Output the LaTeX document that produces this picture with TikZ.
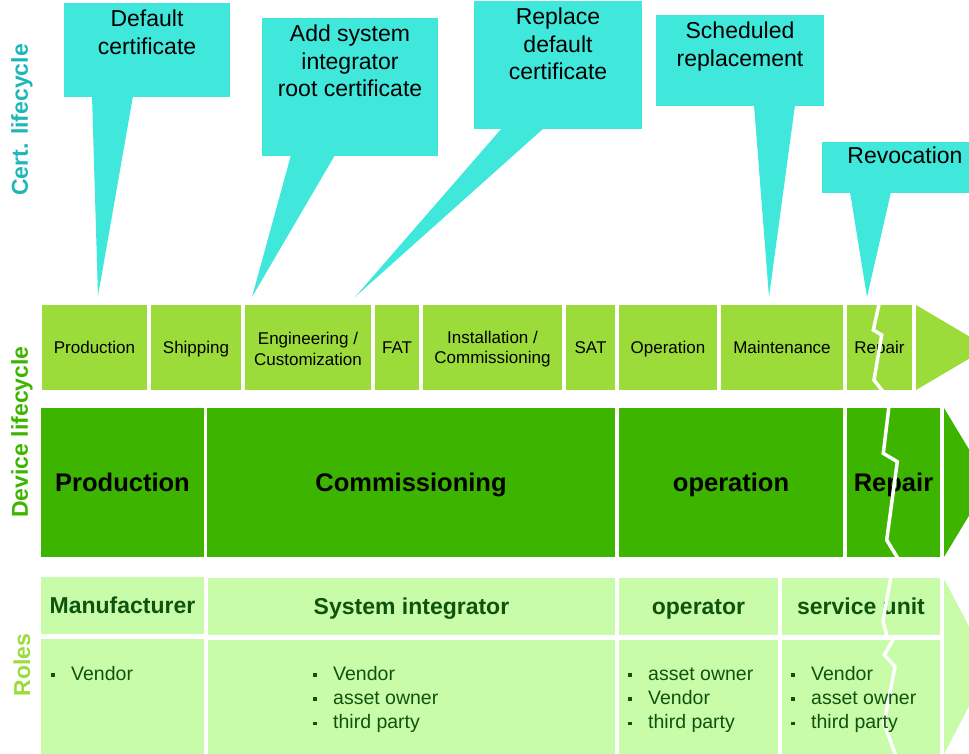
\documentclass[tikz,border=0pt]{standalone}
\usepackage{fontspec}
\setmainfont{Liberation Sans}
\definecolor{callc}{RGB}{64,232,220}
\definecolor{certc}{RGB}{30,182,182}
\definecolor{lg}{RGB}{155,219,58}
\definecolor{dg}{RGB}{60,180,0}
\definecolor{pg}{RGB}{200,252,168}
\definecolor{tg}{RGB}{14,84,14}
\newcommand\mybox[7]{\node[#2, minimum width={(#5-#3)*1pt}, minimum height={(#6-#4)*1pt}] (#1) at ({(#3+#5)/2},{(#4+#6)/2}) {#7};}
\newcommand\bsq{\makebox[20pt][l]{\rule[3.3pt]{3.6pt}{3.6pt}}}
\begin{document}
\begin{tikzpicture}[x=1pt,y=-1pt,
  r1/.style={fill=lg, inner sep=0pt, align=center, font=\fontsize{17}{20.5}\selectfont},
  r1s/.style={r1, text height=12.2pt, text depth=0pt},
  r2/.style={fill=dg, inner sep=0pt, text height=18.3pt, text depth=0pt, font=\fontsize{25.5}{30}\selectfont\bfseries},
  r3h/.style={fill=pg, inner sep=0pt, text height=16.5pt, text depth=0pt, text=tg, font=\fontsize{23}{27}\selectfont\bfseries},
  r3b/.style={fill=pg, inner sep=0pt},
  bul/.style={text=tg, font=\fontsize{19.5}{24}\selectfont, anchor=base west, inner sep=0pt},
  cbox/.style={fill=callc, inner sep=0pt},
  ctext/.style={align=center, font=\fontsize{23}{27.5}\selectfont, inner sep=0pt, anchor=north},
  crack/.style={draw=white, line width=3.5pt, line join=miter},
  side/.style={rotate=90, font=\fontsize{23}{27}\selectfont\bfseries, inner sep=0pt}
]
\useasboundingbox (0,0) rectangle (969,754);
\clip (0,0) rectangle (969,754);

% side labels
\node[side, text=certc] (lcert) at (22,120) {Cert. lifecycle};
\node[side, text=dg] (ldev) at (22,432) {Device lifecycle};
\node[side, text=lg] (lroles) at (22,665) {Roles};

% callouts
\coordinate (t1) at (98,296);
\coordinate (t2) at (252,297);
\coordinate (t3) at (355,297);
\coordinate (t4) at (769,297);
\coordinate (t5) at (867,297);
\mybox{c1}{cbox}{64}{3}{230}{97}{}
\mybox{c2}{cbox}{262}{18}{438}{156}{}
\mybox{c3}{cbox}{474}{1}{642}{129}{}
\mybox{c4}{cbox}{656}{15}{824}{106}{}
\mybox{c5}{cbox}{822}{142}{980}{193}{}
\fill[callc] (92,96) -- (133,96) -- (t1) -- cycle;
\fill[callc] (291,155) -- (335,155) -- (t2) -- cycle;
\fill[callc] (502,128) -- (544,128) -- (t3) -- cycle;
\fill[callc] (754,105) -- (795,105) -- (t4) -- cycle;
\fill[callc] (850,192) -- (891,192) -- (t5) -- cycle;
\node[ctext] (ct1) at (147,10) {Default\\certificate};
\node[ctext] (ct2) at (350,25) {Add system\\integrator\\root certificate};
\node[ctext] (ct3) at (558,8) {Replace\\default\\certificate};
\node[ctext] (ct4) at (740,22) {Scheduled\\replacement};
\node[ctext] (ct5) at (905,147) {Revocation};

% row 1: device lifecycle detail
\mybox{a1}{r1s}{42}{305}{147}{390}{Production}
\mybox{a2}{r1s}{151}{305}{241}{390}{Shipping}
\mybox{a3}{r1}{245}{306.5}{371}{391.5}{Engineering /\\Customization}
\fill[white] (245,390) rectangle (371,392);
\mybox{a4}{r1s}{375}{305}{419}{390}{FAT}
\mybox{a5}{r1}{423}{306.5}{562}{391.5}{Installation /\\Commissioning}
\fill[white] (423,390) rectangle (562,392);
\mybox{a6}{r1s}{566}{305}{615}{390}{SAT}
\mybox{a7}{r1s}{619}{305}{717}{390}{Operation}
\mybox{a8}{r1s}{721}{305}{843}{390}{Maintenance}
\mybox{a9}{r1s}{847}{305}{912}{390}{Repair}
\fill[lg] (245,305) rectangle (371,307);
\fill[lg] (423,305) rectangle (562,307);
\fill[lg] (916,305) -- (988,347.5) -- (916,390) -- cycle;
\draw[crack] (879.3,303) -- (873.3,330) -- (881.7,335) -- (874,380) -- (883.3,392);

% row 2: phases
\mybox{b1}{r2}{41}{408}{204}{557}{Production}
\mybox{b2}{r2}{207}{408}{615}{557}{Commissioning}
\mybox{b3}{r2}{619}{408}{843}{557}{operation}
\mybox{b4}{r2}{847}{408}{940}{557}{Repair}
\fill[dg] (944,408) -- (989,482.5) -- (944,557) -- cycle;
\draw[crack] (889,406) -- (883.3,453.3) -- (897.3,461.7) -- (886.7,540) -- (898.3,559);

% row 3: roles
\mybox{h1}{r3h}{41}{577}{204}{634}{Manufacturer}
\mybox{h2}{r3h}{208}{578}{615}{635}{System integrator}
\mybox{h3}{r3h}{619}{578}{778}{635}{operator}
\mybox{h4}{r3h}{782}{578}{940}{635}{service unit}
\mybox{g1}{r3b}{41}{639}{204}{756}{}
\mybox{g2}{r3b}{208}{640}{615}{756}{}
\mybox{g3}{r3b}{619}{640}{778}{756}{}
\mybox{g4}{r3b}{782}{640}{940}{756}{}
\fill[pg] (944,579) -- (990,666) -- (944,754) -- cycle;
\draw[crack] (891,576) -- (883,621) -- (887,636);
\draw[crack] (894,638) -- (884.3,655) -- (895,666.7) -- (884,723.3) -- (896,756);

\node[bul] (m1) at (51,680) {\bsq Vendor};
\node[bul] (s1) at (313,680) {\bsq Vendor};
\node[bul] (s2) at (313,704.3) {\bsq asset owner};
\node[bul] (s3) at (313,728.6) {\bsq third party};
\node[bul] (o1) at (628,680) {\bsq asset owner};
\node[bul] (o2) at (628,704.3) {\bsq Vendor};
\node[bul] (o3) at (628,728.6) {\bsq third party};
\node[bul] (u1) at (791,680) {\bsq Vendor};
\node[bul] (u2) at (791,704.3) {\bsq asset owner};
\node[bul] (u3) at (791,728.6) {\bsq third party};
\end{tikzpicture}
\end{document}
